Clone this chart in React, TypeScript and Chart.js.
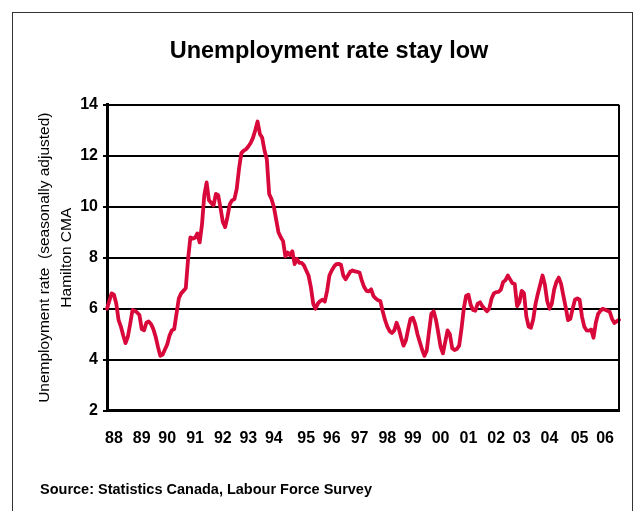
import React, { useEffect, useRef } from 'react';
import { Chart, registerables } from 'chart.js';

Chart.register(...registerables);

const titleText = 'Unemployment rate stay low';
const sourceText = 'Source: Statistics Canada, Labour Force Survey';
const yAxisTitle = ['Unemployment rate  (seasonally adjusted)', 'Hamilton CMA'];

const yearLabels = ['88', '89', '90', '91', '92', '93', '94', '95', '96', '97', '98', '99', '00', '01', '02', '03', '04', '05', '06'];
// month index (from Jan 1988) under which each year label is printed
const yearLabelMonth = [3, 15, 26, 38, 50, 61, 72, 86, 97, 109, 121, 132, 144, 156, 168, 179, 191, 204, 215];

const yMin = 2;
const yMax = 14;
const yStep = 2;

// monthly unemployment rate, Hamilton CMA (%)
const r1988 = [6.0, 6.3, 6.6, 6.55, 6.2, 5.55, 5.3, 4.95, 4.65, 4.9, 5.4, 5.95];
const r1989 = [5.92, 5.85, 5.75, 5.2, 5.15, 5.45, 5.5, 5.4, 5.2, 4.9, 4.5, 4.15];
const r1990 = [4.2, 4.4, 4.6, 4.95, 5.15, 5.2, 5.8, 6.4, 6.6, 6.7, 6.8, 7.95];
const r1991 = [8.8, 8.75, 8.78, 8.95, 8.6, 9.3, 10.45, 10.95, 10.25, 10.15, 10.05, 10.5];
const r1992 = [10.45, 9.95, 9.4, 9.2, 9.6, 10.1, 10.25, 10.3, 10.7, 11.5, 12.1, 12.2];
const r1993 = [12.25, 12.36, 12.5, 12.7, 13.0, 13.34, 12.85, 12.7, 12.2, 11.85, 10.5, 10.3];
const r1994 = [10.0, 9.5, 9.0, 8.8, 8.65, 8.05, 8.2, 8.1, 8.25, 7.75, 7.95, 7.8];
const r1995 = [7.8, 7.7, 7.5, 7.3, 6.85, 6.2, 6.0, 6.2, 6.3, 6.35, 6.28, 6.7];
const r1996 = [7.3, 7.5, 7.65, 7.75, 7.76, 7.72, 7.3, 7.15, 7.3, 7.45, 7.5, 7.46];
const r1997 = [7.44, 7.42, 7.1, 6.85, 6.7, 6.68, 6.76, 6.5, 6.4, 6.33, 6.3, 5.9];
const r1998 = [5.56, 5.3, 5.12, 5.05, 5.15, 5.45, 5.2, 4.85, 4.55, 4.75, 5.2, 5.6];
const r1999 = [5.65, 5.4, 5.0, 4.7, 4.4, 4.15, 4.35, 5.1, 5.8, 5.9, 5.56, 5.05];
const r2000 = [4.5, 4.25, 4.7, 5.15, 5.0, 4.45, 4.38, 4.42, 4.55, 5.2, 6.0, 6.5];
const r2001 = [6.55, 6.15, 5.95, 5.92, 6.2, 6.25, 6.1, 6.0, 5.9, 6.0, 6.4, 6.6];
const r2002 = [6.65, 6.66, 6.75, 7.05, 7.12, 7.3, 7.15, 7.0, 6.97, 6.1, 6.25, 6.7];
const r2003 = [6.6, 5.7, 5.3, 5.25, 5.6, 6.2, 6.6, 6.95, 7.3, 6.95, 6.3, 6.0];
const r2004 = [6.2, 6.75, 7.05, 7.22, 6.97, 6.5, 6.05, 5.55, 5.6, 6.0, 6.35, 6.4];
const r2005 = [6.35, 5.7, 5.3, 5.15, 5.14, 5.18, 4.86, 5.45, 5.8, 5.92, 6.0, 5.96];
const r2006 = [5.92, 5.88, 5.6, 5.44, 5.5, 5.56];

const rates = [
  ...r1988, ...r1989, ...r1990, ...r1991, ...r1992, ...r1993, ...r1994,
  ...r1995, ...r1996, ...r1997, ...r1998, ...r1999, ...r2000, ...r2001,
  ...r2002, ...r2003, ...r2004, ...r2005, ...r2006,
];

const lineColor = '#D8083B';
const FONT = '"Liberation Sans", Arial, sans-serif';

const decorPlugin = {
  id: 'decor',
  afterDraw(chart: any) {
    const { ctx, chartArea } = chart;
    ctx.save();
    // right frame of plot
    ctx.strokeStyle = '#000';
    ctx.lineWidth = 2;
    ctx.beginPath();
    ctx.moveTo(chartArea.right, chartArea.top);
    ctx.lineTo(chartArea.right, chartArea.bottom);
    ctx.stroke();
    // title
    ctx.fillStyle = '#000';
    ctx.font = `bold 23.5px ${FONT}`;
    ctx.textAlign = 'center';
    ctx.textBaseline = 'middle';
    ctx.fillText(titleText, 329, 52);
    // source
    ctx.font = `bold 14.5px ${FONT}`;
    ctx.textAlign = 'left';
    ctx.fillText(sourceText, 40, 490);
    ctx.restore();
  },
};

export default function App() {
  const canvasRef = useRef<HTMLCanvasElement | null>(null);

  useEffect(() => {
    if (!canvasRef.current) return;
    const labels = rates.map((_, i) => {
      const k = yearLabelMonth.indexOf(i);
      return k >= 0 ? yearLabels[k] : '';
    });
    const chart = new Chart(canvasRef.current, {
      type: 'line',
      data: {
        labels,
        datasets: [
          {
            data: rates,
            borderColor: lineColor,
            borderWidth: 3.8,
            pointRadius: 0,
            tension: 0,
            borderJoinStyle: 'round',
            borderCapStyle: 'round',
            fill: false,
          },
        ],
      },
      options: {
        responsive: false,
        animation: false,
        events: [],
        layout: { padding: { top: 104.7, right: 19, bottom: 0, left: 0 } },
        plugins: {
          legend: { display: false },
          tooltip: { enabled: false },
          title: { display: false },
        },
        scales: {
          x: {
            type: 'category',
            offset: false,
            afterFit: (scale: any) => {
              scale.height = 100.3;
            },
            grid: { display: false },
            border: { display: true, color: '#000', width: 3 },
            ticks: {
              autoSkip: false,
              maxRotation: 0,
              minRotation: 0,
              padding: 10,
              color: '#000',
              font: { family: FONT, size: 16, weight: 'bold' },
            },
          },
          y: {
            min: yMin,
            max: yMax,
            afterFit: (scale: any) => {
              scale.width = 107;
            },
            ticks: {
              stepSize: yStep,
              padding: 5,
              color: '#000',
              font: { family: FONT, size: 16, weight: 'bold' },
            },
            grid: { color: '#000', lineWidth: 2, tickLength: 4, drawTicks: true },
            border: { display: true, color: '#000', width: 3 },
            title: {
              display: true,
              text: yAxisTitle,
              color: '#000',
              font: { family: FONT, size: 15.5, weight: 'normal', lineHeight: 1.4 },
              padding: { top: 34, bottom: 0 },
            },
          },
        },
      },
      plugins: [decorPlugin],
    });
    return () => chart.destroy();
  }, []);

  return (
    <div style={{ position: 'absolute', left: 0, top: 0, width: 638, height: 511, background: '#fff', overflow: 'hidden' }}>
      <div
        style={{
          position: 'absolute',
          left: 12,
          top: 12,
          width: 621,
          height: 520,
          borderLeft: '1.5px solid #333',
          borderTop: '1.5px solid #333',
          borderRight: '1.5px solid #333',
          boxSizing: 'border-box',
        }}
      />
      <canvas ref={canvasRef} width={638} height={511} style={{ position: 'absolute', left: 0, top: 0 }} />
    </div>
  );
}
